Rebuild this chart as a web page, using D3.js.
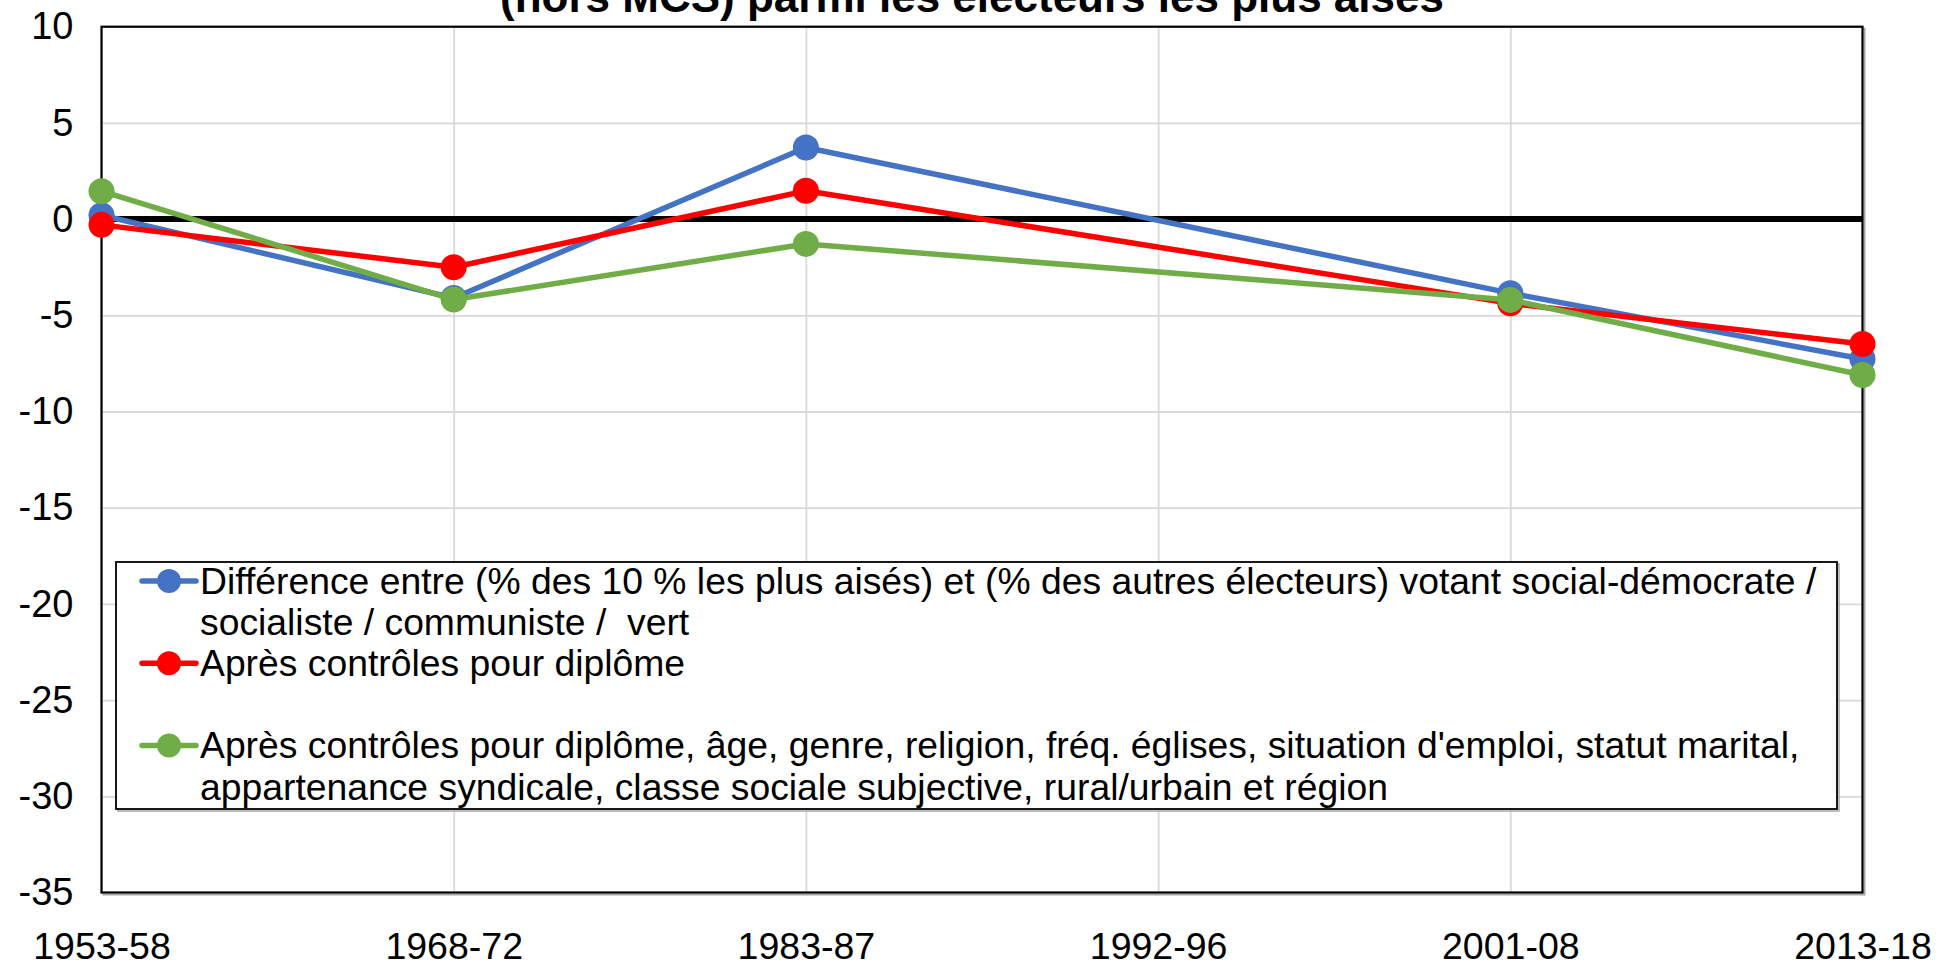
<html>
<head>
<meta charset="utf-8">
<script src="https://d3js.org/d3.v7.min.js"></script>
<style>
  body { margin: 0; background: white; }
  text { font-family: "Liberation Sans", Arial, sans-serif; fill: black; }
</style>
</head>
<body>
<div id="my_dataviz"></div>
<script>
  // periods on the x axis (1992-96 has no survey point, lines jump over it)
  var periods = ["1953-58", "1968-72", "1983-87", "1992-96", "2001-08", "2013-18"];
  var yTicks = [10, 5, 0, -5, -10, -15, -20, -25, -30, -35];

  var diffRaw     = [0.2, -4.1, 3.72, null, -3.85, -7.27];
  var ctrlDiplome = [-0.3, -2.5, 1.47, null, -4.38, -6.49];
  var ctrlAll     = [1.45, -4.18, -1.29, null, -4.2, -8.1];

  var titleText = "(hors MCS) parmi les électeurs les plus aisés";

  var legendLines = [
    ["Différence entre (% des 10 % les plus aisés) et (% des autres électeurs) votant social-démocrate /",
     "socialiste / communiste /  vert"],
    ["Après contrôles pour diplôme", ""],
    ["Après contrôles pour diplôme, âge, genre, religion, fréq. églises, situation d'emploi, statut marital,",
     "appartenance syndicale, classe sociale subjective, rural/urbain et région"]
  ];

  var series = [
    { name: "diff",    values: diffRaw,     color: "#4472C4", legend: legendLines[0], row: 0 },
    { name: "diplome", values: ctrlDiplome, color: "#FF0000", legend: legendLines[1], row: 2 },
    { name: "all",     values: ctrlAll,     color: "#70AD47", legend: legendLines[2], row: 4 }
  ];

  var W = 1937, H = 963;
  var plot = { left: 101.5, right: 1862.5, top: 26.7, bottom: 892.5 };

  var svg = d3.select("#my_dataviz")
    .append("svg")
      .attr("width", W)
      .attr("height", H);

  var x = d3.scalePoint()
    .domain(periods)
    .range([plot.left, plot.right])
    .padding(0);

  var y = d3.scaleLinear()
    .domain([-35, 10])
    .range([plot.bottom, plot.top]);

  // shadow of the plot frame
  svg.append("rect")
    .attr("x", plot.left + 2)
    .attr("y", plot.top + 2)
    .attr("width", plot.right - plot.left)
    .attr("height", plot.bottom - plot.top)
    .attr("fill", "none")
    .attr("stroke", "#a6a6a6")
    .attr("stroke-width", 2);

  svg.append("rect")
    .attr("x", plot.left)
    .attr("y", plot.top)
    .attr("width", plot.right - plot.left)
    .attr("height", plot.bottom - plot.top)
    .attr("fill", "white")
    .attr("stroke", "none");

  // gridlines
  var gridY = svg.append("g")
    .attr("transform", "translate(" + plot.left + ",0)")
    .call(d3.axisLeft(y).tickValues(yTicks).tickSize(-(plot.right - plot.left)).tickFormat(""));
  gridY.select(".domain").remove();
  gridY.selectAll("line").attr("stroke", "#d9d9d9").attr("stroke-width", 1.8);

  var gridX = svg.append("g")
    .attr("transform", "translate(0," + plot.bottom + ")")
    .call(d3.axisBottom(x).tickSize(-(plot.bottom - plot.top)).tickFormat(""));
  gridX.select(".domain").remove();
  gridX.selectAll("line").attr("stroke", "#d9d9d9").attr("stroke-width", 1.8);

  // frame
  svg.append("rect")
    .attr("x", plot.left)
    .attr("y", plot.top)
    .attr("width", plot.right - plot.left)
    .attr("height", plot.bottom - plot.top)
    .attr("fill", "none")
    .attr("stroke", "black")
    .attr("stroke-width", 2.2);

  // zero line
  svg.append("line")
    .attr("x1", plot.left)
    .attr("x2", plot.right)
    .attr("y1", y(0))
    .attr("y2", y(0))
    .attr("stroke", "black")
    .attr("stroke-width", 6);

  // axis labels
  var yAxis = svg.append("g")
    .attr("transform", "translate(" + plot.left + ",0)")
    .call(d3.axisLeft(y).tickValues(yTicks).tickSize(0).tickPadding(28).tickFormat(function(d) { return String(d); }));
  yAxis.select(".domain").remove();
  yAxis.selectAll("text")
    .attr("font-family", "Liberation Sans, Arial, sans-serif")
    .attr("font-size", 38)
    .attr("fill", "black");

  var xAxis = svg.append("g")
    .attr("transform", "translate(0," + plot.bottom + ")")
    .call(d3.axisBottom(x).tickSize(0));
  xAxis.select(".domain").remove();
  xAxis.selectAll("text")
    .attr("y", 66)
    .attr("dy", 0)
    .attr("font-family", "Liberation Sans, Arial, sans-serif")
    .attr("font-size", 37.5)
    .attr("fill", "black");

  // series
  var line = d3.line()
    .x(function(d) { return x(d.p); })
    .y(function(d) { return y(d.v); });

  series.forEach(function(s) {
    var pts = periods.map(function(p, i) { return { p: p, v: s.values[i] }; })
      .filter(function(d) { return d.v !== null; });

    svg.append("path")
      .datum(pts)
      .attr("fill", "none")
      .attr("stroke", s.color)
      .attr("stroke-width", 5.5)
      .attr("stroke-linejoin", "round")
      .attr("d", line);

    svg.selectAll("circle." + s.name)
      .data(pts)
      .enter()
      .append("circle")
        .attr("class", s.name)
        .attr("cx", function(d) { return x(d.p); })
        .attr("cy", function(d) { return y(d.v); })
        .attr("r", 13)
        .attr("fill", s.color);
  });

  // legend
  var leg = { x: 116, y: 562, w: 1721, h: 247, textX: 200, firstBase: 594, lineH: 41.1 };

  svg.append("rect")
    .attr("x", leg.x + 2)
    .attr("y", leg.y + 2)
    .attr("width", leg.w)
    .attr("height", leg.h)
    .attr("fill", "none")
    .attr("stroke", "#a6a6a6")
    .attr("stroke-width", 1.5);

  svg.append("rect")
    .attr("x", leg.x)
    .attr("y", leg.y)
    .attr("width", leg.w)
    .attr("height", leg.h)
    .attr("fill", "white")
    .attr("stroke", "black")
    .attr("stroke-width", 1.8);

  series.forEach(function(s) {
    var base = leg.firstBase + s.row * leg.lineH;

    svg.append("line")
      .attr("x1", 142)
      .attr("x2", 196)
      .attr("y1", base - 13)
      .attr("y2", base - 13)
      .attr("stroke", s.color)
      .attr("stroke-width", 5.5)
      .attr("stroke-linecap", "round");

    svg.append("circle")
      .attr("cx", 169)
      .attr("cy", base - 13)
      .attr("r", 12)
      .attr("fill", s.color);

    s.legend.forEach(function(t, j) {
      svg.append("text")
        .attr("x", leg.textX)
        .attr("y", base + j * leg.lineH)
        .attr("font-size", 37.3)
        .style("white-space", "pre")
        .text(t);
    });
  });

  // title (only its lower part fits in the picture)
  svg.append("text")
    .attr("x", 972)
    .attr("y", 12)
    .attr("text-anchor", "middle")
    .attr("font-size", 44)
    .attr("font-weight", "bold")
    .text(titleText);
</script>
</body>
</html>
